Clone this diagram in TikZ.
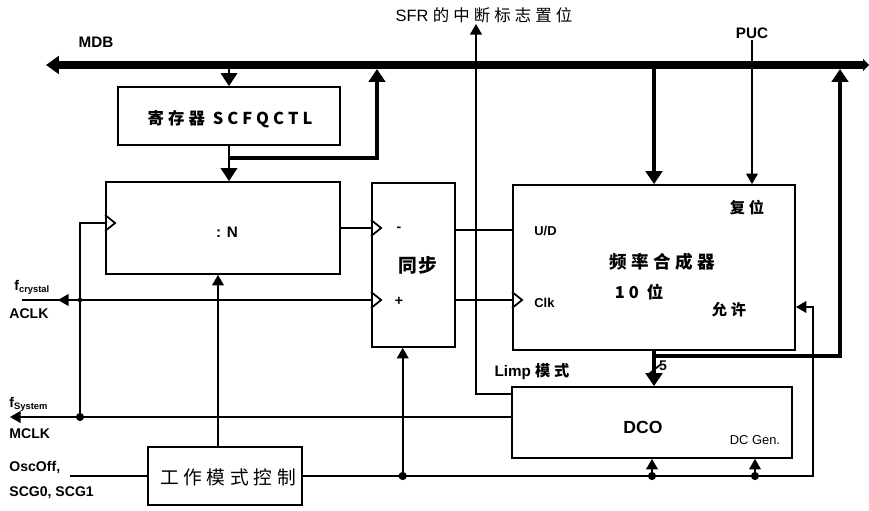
\documentclass[tikz,border=0pt]{standalone}
\usepackage{fontspec}
\setmainfont{Liberation Sans}
\newfontfamily\cjk{Noto Sans CJK SC}[LetterSpace=25]
\newfontfamily\cjkn{Noto Sans CJK SC}[LetterSpace=10]
\usepackage{tikz}
\usetikzlibrary{arrows.meta, calc}

\newcommand{\clkin}[1]{\draw[wire] #1 ++(0,-8) -- ++(10,8) -- ++(-10,8);}

\begin{document}
\begin{tikzpicture}[x=0.03cm, y=-0.03cm,
        box/.style={draw, line width=1.5pt, inner sep=0pt},
        wire/.style={line width=1.5pt},
        fat/.style={line width=3pt},
        bus/.style={line width=6.5pt, {Triangle[width=15pt,length=11pt]}-{Triangle[width=10pt,length=5pt]}},
        tip/.style={-{Triangle[width=10pt,length=9pt]}},
        bigtip/.style={-{Triangle[width=14pt,length=11pt]}},
        dot/.style={circle, fill, inner sep=0pt, minimum size=7pt},
        lbl/.style={font=\bfseries\fontsize{12}{14}\selectfont, inner sep=1pt},
        zh/.style={font=\cjk\bfseries\fontsize{15}{17}\selectfont, inner sep=1pt}
    ]
        \useasboundingbox (0,0) rectangle (869,511);

        % Bus
        \coordinate (busL) at (46,65);
        \coordinate (busR) at (869,65);
        \draw[bus] (busL) -- (busR);
        \node[lbl, font=\bfseries\fontsize{13}{15}\selectfont] (mdb) at (96,42) {MDB};

        % Blocks
        \node[box, minimum width=6.66cm, minimum height=1.74cm] (reg) at (229,116) {};
        \node[zh, font=\cjk\bfseries\fontsize{14}{16}\selectfont] at (230,119) {寄存器 SCFQCTL};
        \node[box, minimum width=7.02cm, minimum height=2.76cm] (div) at (223,228) {};
        \node[lbl, font=\bfseries\fontsize{13}{15}\selectfont] at (227,232) {: N};
        \node[box, minimum width=2.49cm, minimum height=4.92cm] (sync) at (413.5,265) {};
        \node[zh, font=\cjkn\bfseries\fontsize{16}{18}\selectfont] at (418,265) {同步};
        \node[lbl] at (399,229) {-};
        \node[lbl] at (399,301) {+};
        \node[box, minimum width=8.46cm, minimum height=4.95cm] (fsyn) at (654,267.5) {};
        \node[lbl, font=\bfseries\fontsize{11}{13}\selectfont, anchor=west] at (533,231) {U/D};
        \node[lbl, font=\bfseries\fontsize{11}{13}\selectfont, anchor=west] at (533,303) {Clk};
        \node[zh] at (662,262) {频率合成器};
        \node[zh, font=\cjk\bfseries\fontsize{14}{16}\selectfont] at (639,292) {10 位};
        \node[zh, font=\cjk\bfseries\fontsize{13}{15}\selectfont] at (747,208) {复位};
        \node[zh, font=\cjk\bfseries\fontsize{13}{15}\selectfont] at (729,310) {允许};
        \node[box, minimum width=8.4cm, minimum height=2.13cm] (dco) at (652,422.5) {};
        \node[lbl, font=\bfseries\fontsize{15}{17}\selectfont] at (643,427) {DCO};
        \node[lbl, font=\fontsize{11}{13}\selectfont] at (755,440) {DC Gen.};
        \node[box, minimum width=4.62cm, minimum height=1.74cm] (mode) at (225,476) {};
        \node[font=\cjk\fontsize{16}{18}\selectfont, inner sep=0pt] at (228,477) {工作模式控制};

        % Left labels
        \node[lbl, anchor=west] at (13,287) {f\textsubscript{crystal}};
        \node[lbl, anchor=west] at (8,314) {ACLK};
        \node[lbl, anchor=west] at (8,404) {f\textsubscript{System}};
        \node[lbl, anchor=west] at (8,434) {MCLK};
        \node[lbl, anchor=west] at (8,467) {OscOff,};
        \node[lbl, anchor=west] at (8,493) {SCG0, SCG1};

        % Register paths
        \draw[wire, bigtip] (reg.north |- busL) -- (reg.north);
        \draw[wire, bigtip] (reg.south) -- (reg.south |- div.north);
        \coordinate (fb) at ($(reg.south)+(0,12)$);
        \coordinate (fbup) at (377,69);
        \draw[fat, bigtip] (fb) -| (fbup);

        % Divider and sync inputs
        \coordinate (ck) at (80,223);
        \coordinate (jA) at (80,300);
        \coordinate (jM) at (80,417);
        \coordinate (aclk) at (22,300);
        \draw[wire] (jM) -- (ck) -- (ck -| div.west);
        \clkin{(ck -| div.west)}
        \draw[wire] (div.east) -- (div.east -| sync.west);
        \clkin{(div.east -| sync.west)}
        \draw[wire] (aclk) -- (aclk -| sync.west);
        \clkin{(aclk -| sync.west)}
        \draw[wire, tip] (jA) -- ++(-22,0);
        \node[dot, minimum size=4pt] at (jA) {};

        % MCLK
        \coordinate (mclk) at (10,417);
        \draw[wire, tip] (dco.west |- jM) -- (mclk);
        \node[dot] at (jM) {};

        % Sync outputs
        \coordinate (ud) at ($(sync.east)+(0,-35)$);
        \coordinate (ck2) at ($(sync.east)+(0,35)$);
        \draw[wire] (ud) -- (ud -| fsyn.west);
        \draw[wire] (ck2) -- (ck2 -| fsyn.west);
        \clkin{(ck2 -| fsyn.west)}

        % SFR flag
        \coordinate (limp) at ($(dco.north west)+(0,8)$);
        \coordinate (sfr) at (476,24);
        \draw[wire, tip] (limp) -| (sfr);
        \node[font=\cjk\fontsize{15}{17}\selectfont, inner sep=0pt] at (484,15) {\fontspec{Liberation Sans}\fontsize{14}{16}\selectfont SFR\ \cjk 的中断标志置位};
        \node[font=\cjk\bfseries\fontsize{13}{15}\selectfont, inner sep=0pt] at (532,372) {\fontspec{Liberation Sans}Limp \cjk 模式};

        % Synthesizer
        \draw[fat, bigtip] (fsyn.north |- busL) -- (fsyn.north);
        \node[lbl, font=\bfseries\fontsize{13}{15}\selectfont] (puc) at (752,33) {PUC};
        \draw[wire, tip] (puc.south) -- (puc.south |- fsyn.north);
        \draw[fat, bigtip] (fsyn.south) -- (fsyn.south |- dco.north);
        \draw[wire] ($(fsyn.south)+(-6,24)$) -- ++(12,-10);
        \node[lbl] at (663,366) {5};
        \coordinate (br) at ($(fsyn.south)+(0,5)$);
        \coordinate (busup) at (840,69);
        \draw[fat, bigtip] (br) -| (busup);

        % Mode control
        \coordinate (mt) at ($(mode.north)+(-7,0)$);
        \draw[wire, tip] (mt) -- (mt |- div.south);
        \coordinate (osc) at (70,476);
        \draw[wire] (osc) -- (mode.west);
        \coordinate (en) at (813,307);
        \draw[wire, tip] (mode.east) -| (en) -- (en -| fsyn.east);
        \coordinate (j1) at ($(mode.east -| sync.south)+(-10.8,0)$);
        \coordinate (j2) at (mode.east -| dco.south);
        \coordinate (j3) at ($(mode.east -| dco.south)+(103,0)$);
        \draw[wire, tip] (j1) -- (j1 |- sync.south);
        \draw[wire, tip] (j2) -- (dco.south);
        \draw[wire, tip] (j3) -- (j3 |- dco.south);
        \node[dot] at (j1) {};
        \node[dot] at (j2) {};
        \node[dot] at (j3) {};

    \end{tikzpicture}
\end{document}
